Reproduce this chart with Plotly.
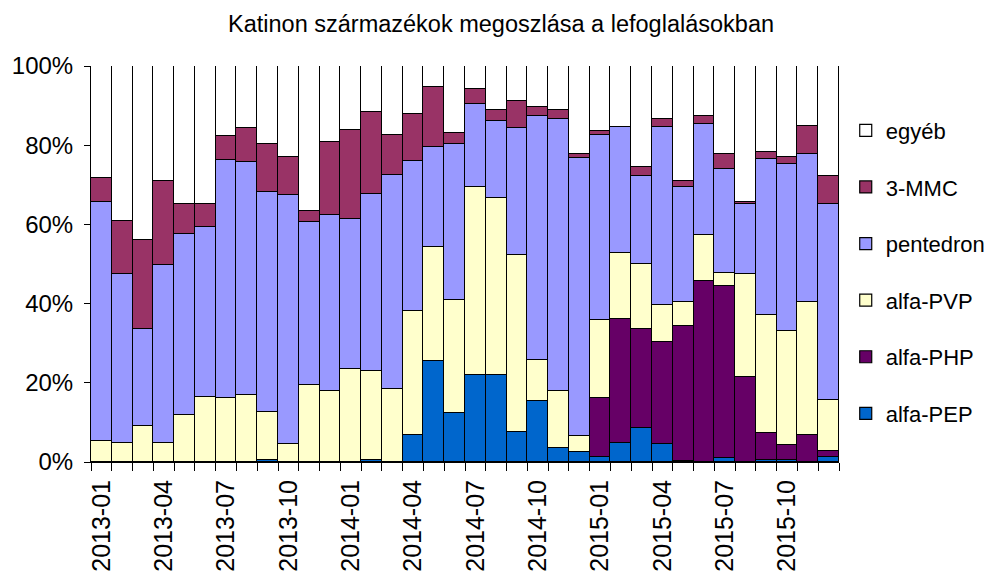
import plotly.graph_objects as go

months = [f"{y}-{m:02d}" for y in (2013, 2014, 2015) for m in range(1, 13)]

alfa_pep = [0, 0, 0, 0, 0, 0, 0, 0, 0.4, 0, 0, 0,
            0, 0.6, 0, 6.9, 25.4, 12.3, 21.9, 21.9, 7.6, 15.3, 3.6, 2.5,
            1.3, 4.9, 8.7, 4.5, 0.2, 0, 1.0, 0, 0.5, 0.6, 0, 1.3]
alfa_php = [0] * 24 + [14.9, 31.3, 24.8, 25.9, 34.1, 45.8, 43.4, 21.5, 6.7, 3.7, 6.9, 1.6]
alfa_pvp = [5.2, 4.9, 9.2, 4.9, 11.9, 16.5, 16.1, 16.8, 12.2, 4.5, 19.5, 18.0,
            23.4, 22.4, 18.4, 31.2, 28.9, 28.6, 47.5, 44.8, 44.8, 10.5, 14.4, 4.0,
            19.7, 16.7, 16.5, 9.3, 6.1, 11.4, 3.4, 25.9, 29.9, 28.8, 33.6, 12.8]
pentedron = [60.4, 42.5, 24.3, 44.8, 45.8, 42.8, 60.2, 58.9, 55.7, 63.0, 41.0, 44.5,
             38.0, 44.8, 54.2, 37.8, 25.2, 39.4, 20.9, 19.4, 31.9, 61.5, 68.5, 70.3,
             46.6, 31.6, 22.1, 44.8, 29.0, 28.1, 26.3, 17.8, 39.3, 42.2, 37.4, 49.5]
mmc3 = [6.1, 13.5, 22.5, 21.3, 7.5, 5.9, 6.0, 8.6, 12.0, 9.4, 2.9, 18.2,
        22.4, 20.6, 10.1, 12.1, 15.1, 2.7, 4.0, 2.8, 6.9, 2.3, 2.5, 0.9,
        1.2, 0, 2.4, 2.0, 1.6, 2.0, 3.6, 0.5, 1.9, 1.6, 7.0, 7.0]
egyeb = [28.3, 39.1, 44.0, 29.0, 34.8, 34.8, 17.7, 15.7, 19.7, 23.1, 36.6, 19.3,
         16.2, 11.6, 17.3, 12.0, 5.4, 17.0, 5.7, 11.1, 8.8, 10.4, 11.0, 22.3,
         16.3, 15.5, 25.5, 13.5, 29.0, 12.7, 22.3, 34.3, 21.7, 23.1, 15.1, 27.8]

series = [
    ("alfa-PEP", alfa_pep, "#0066CC"),
    ("alfa-PHP", alfa_php, "#660066"),
    ("alfa-PVP", alfa_pvp, "#FFFFCC"),
    ("pentedron", pentedron, "#9999FF"),
    ("3-MMC", mmc3, "#993366"),
    ("egyéb", egyeb, "#FFFFFF"),
]

fig = go.Figure()
n = len(series)
for i, (name, vals, col) in enumerate(series):
    fig.add_trace(go.Bar(
        x=months, y=vals, name=name, legendgroup=name, legendrank=n - i,
        marker=dict(color=col, line=dict(color="black", width=1.2)),
    ))

ticktext = [m if i % 3 == 0 else "" for i, m in enumerate(months)]

# page body has an 8px default margin, compensate so the plot lands where the reference has it
fig.update_layout(
    barmode="stack",
    barnorm="percent",
    bargap=0,
    width=994, height=572,
    margin=dict(l=83, r=163, t=58, b=118, autoexpand=False),
    paper_bgcolor="white", plot_bgcolor="white",
    font=dict(family="Liberation Sans, Arial, sans-serif", color="black"),
    title=dict(text="Katinon származékok megoszlása a lefoglalásokban",
               x=0.496, xanchor="center", y=0.972, yanchor="middle",
               font=dict(size=23.5, color="black")),
    legend=dict(x=1.009, xanchor="left", y=0.89, yanchor="top",
                traceorder="grouped", tracegroupgap=25,
                font=dict(size=22), itemwidth=30, bgcolor="rgba(0,0,0,0)"),
    xaxis=dict(type="category", tickmode="array", tickvals=months, ticktext=ticktext,
               tickangle=-90, tickson="boundaries", ticks="outside", ticklen=8,
               tickcolor="black", showline=True, linecolor="black", linewidth=1,
               ticklabelstandoff=7,
               tickfont=dict(size=25), showgrid=False, automargin=False),
    yaxis=dict(range=[0, 100], tickvals=[0, 20, 40, 60, 80, 100],
               ticktext=["0%", "20%", "40%", "60%", "80%", "100%"],
               ticks="outside", ticklen=6, tickcolor="black", ticklabelstandoff=6,
               showline=True, linecolor="black", linewidth=1,
               tickfont=dict(size=24), showgrid=False, zeroline=False, automargin=False),
)

fig.write_html("out.html")
